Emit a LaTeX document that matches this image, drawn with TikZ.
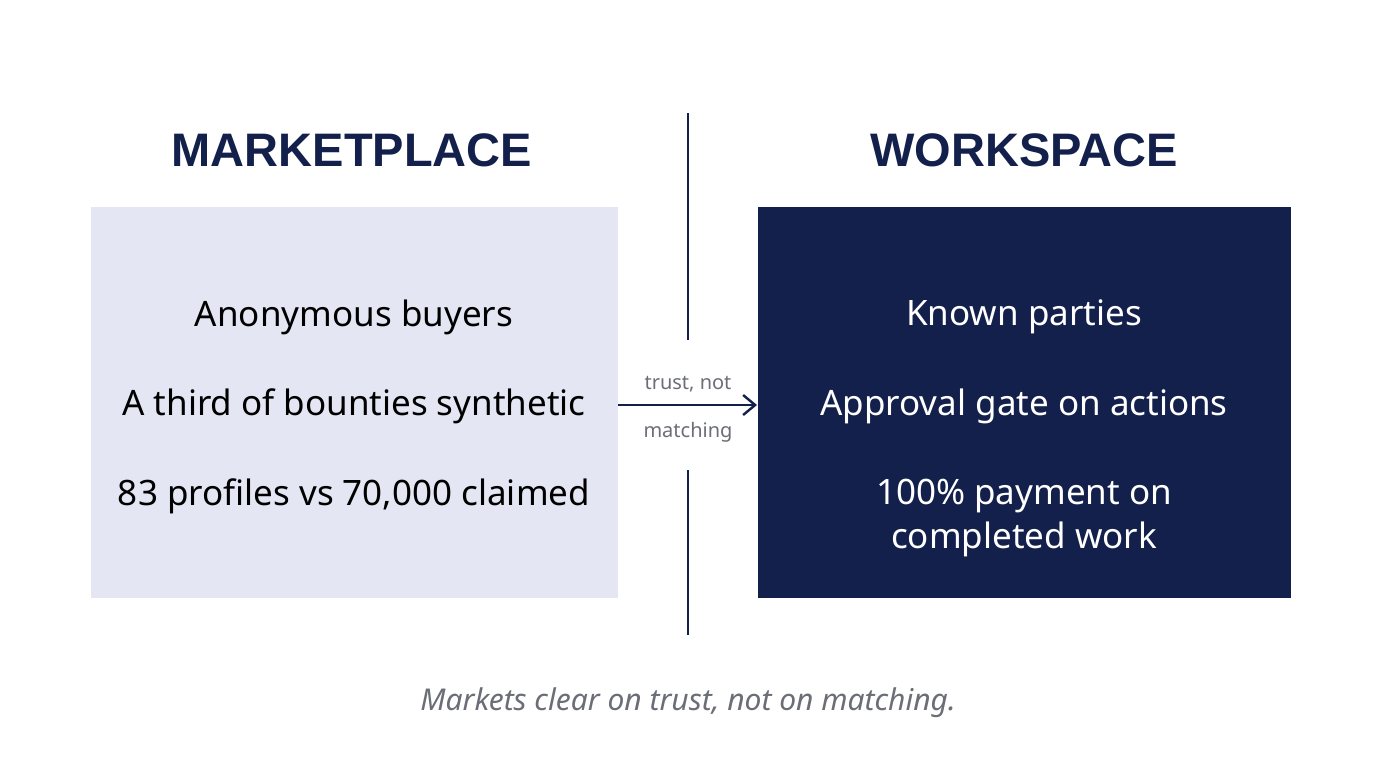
\documentclass[tikz,border=0pt]{standalone}
\usepackage{fontspec}
\usetikzlibrary{arrows.meta}
\setmainfont{Noto Sans}
\newfontfamily\headfont{Liberation Sans}
\definecolor{navy}{HTML}{13204B}
\definecolor{pale}{HTML}{E4E7F3}
\definecolor{greytxt}{HTML}{6B6E76}
\begin{document}
\begin{tikzpicture}[x=0.5pt,y=-0.5pt,
  head/.style={font=\headfont\fontsize{23.5}{28}\selectfont\bfseries,text=navy},
  body/.style={font=\fontsize{17.5}{22}\selectfont,align=center},
  small/.style={font=\fontsize{10}{12}\selectfont,text=greytxt}]
\useasboundingbox[fill=white] (0,0) rectangle (1376,768);
\fill[pale] (91,207) rectangle (618,598);
\fill[navy] (758,207) rectangle (1291,598);
\node[head] (h1) at (352,150) {MARKETPLACE};
\node[head] (h2) at (1024,150) {WORKSPACE};
\coordinate (d1) at (688,113); \coordinate (d2) at (688,340);
\coordinate (d3) at (688,470); \coordinate (d4) at (688,635);
\draw[line width=1.2pt,navy] (d1) -- (d2);
\draw[line width=1.2pt,navy] (d3) -- (d4);
\node[body] (l1) at (354,317) {Anonymous buyers};
\node[body] (l2) at (354,406) {A third of bounties synthetic};
\node[body] (l3) at (354,496) {83 profiles vs 70,000 claimed};
\node[body,text=white] (r1) at (1024,317) {Known parties};
\node[body,text=white] (r2) at (1024,406) {Approval gate on actions};
\node[body,text=white] (r3) at (1024,518) {100\% payment on\\completed work};
\coordinate (a1) at (618,405); \coordinate (a2) at (757,405);
\draw[line width=1.2pt,navy,-{Straight Barb[length=6pt,width=10pt]}] (a1) -- (a2);
\node[small] (t1) at (688,384) {trust, not};
\node[small] (t2) at (688,432) {matching};
\node[font=\fontsize{15}{18}\selectfont\itshape,text=greytxt] (cap) at (688,703) {Markets clear on trust, not on matching.};
\end{tikzpicture}
\end{document}
